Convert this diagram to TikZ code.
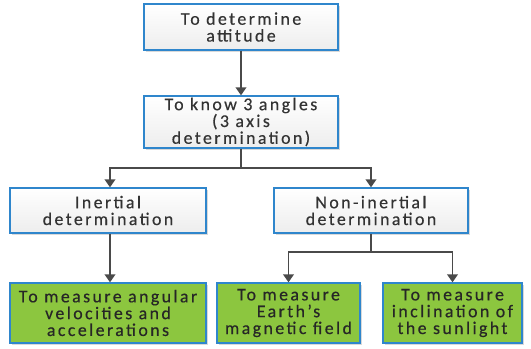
\documentclass[tikz,border=0pt]{standalone}
\usepackage{fontspec}
\setmainfont{Carlito}
\usetikzlibrary{arrows.meta,shadows}
\definecolor{bbord}{HTML}{2F86CC}
\definecolor{gfill}{HTML}{8CC63F}
\definecolor{aline}{HTML}{4A4A4A}
\begin{document}
\begin{tikzpicture}[x=0.75pt,y=-0.75pt,
  box/.style={draw=bbord,line width=1pt,top color=white,bottom color=black!7,
    drop shadow={shadow xshift=1.2pt,shadow yshift=-1.2pt,fill=black!25,opacity=0.6},
    align=center,font=\fontsize{13.4}{12.6}\selectfont\addfontfeatures{LetterSpace=13.5,FakeBold=0.4},text=black!80,inner sep=0pt},
  gbox/.style={box,fill=gfill,top color=gfill,bottom color=gfill,text=black!85},
  arr/.style={draw=aline,line width=1.2pt,-{Triangle[width=8pt,length=6pt]}},
  ln/.style={draw=aline,line width=1.2pt}]
\useasboundingbox (0,0) rectangle (531,349);
\node[box,minimum width=194*0.75pt,minimum height=46*0.75pt] (a) at (241,27) {To determine\\attitude};
\node[box,minimum width=194*0.75pt,minimum height=52*0.75pt] (b) at (241,122) {To know 3 angles\\(3 axis\\determination)};
\node[box,minimum width=196*0.75pt,minimum height=45*0.75pt] (c) at (108,210.5) {Inertial\\determination};
\node[box,minimum width=194*0.75pt,minimum height=45*0.75pt] (d) at (371,210.5) {Non-inertial\\determination};
\node[gbox,minimum width=196*0.75pt,minimum height=60*0.75pt] (e) at (108,313) {To measure angular\\velocities and\\accelerations};
\node[gbox,minimum width=143*0.75pt,minimum height=60*0.75pt] (f) at (288.5,313) {To measure\\Earth’s\\magnetic field};
\node[gbox,minimum width=139*0.75pt,minimum height=60*0.75pt] (g) at (452.5,313) {To measure\\inclination of\\the sunlight};
\coordinate (h1) at (241,168);
\coordinate (h2) at (371,252);
\draw[arr] (a) -- (b);
\draw[ln] (b) -- (h1);
\draw[arr] (h1) -| (c.north -| 110,0);
\draw[arr] (h1) -| (d);
\draw[arr] (c.south -| 110,0) -- (e.north -| 110,0);
\draw[ln] (d) -- (h2);
\draw[arr] (h2) -| (f);
\draw[arr] (h2) -| (g);
\end{tikzpicture}
\end{document}
